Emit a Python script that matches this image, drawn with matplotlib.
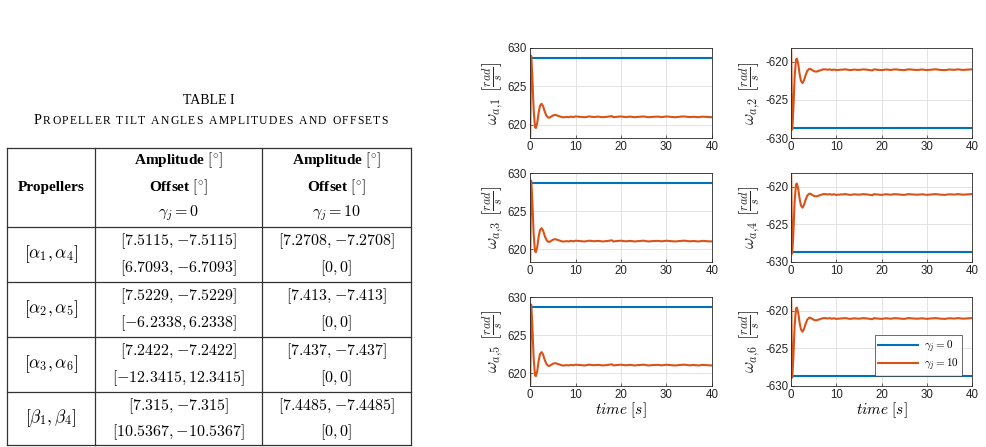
import matplotlib
matplotlib.use("Agg")
import matplotlib.pyplot as plt
from matplotlib.lines import Line2D

plt.rcParams['mathtext.fontset'] = 'cm'
plt.rcParams['font.family'] = ['Liberation Sans', 'DejaVu Sans']
plt.rcParams['axes.unicode_minus'] = False

# ---------------- data ----------------
table_title = "TABLE I"
table_subtitle = "Propeller tilt angles amplitudes and offsets"
header_col1 = "Propellers"
header_lines = ["Amplitude $[^{\\circ}]$", "Offset $[^{\\circ}]$"]
gamma_headers = ["$\\gamma_j=0$", "$\\gamma_j=10$"]
propellers = ["$[\\alpha_1,\\alpha_4]$", "$[\\alpha_2,\\alpha_5]$",
              "$[\\alpha_3,\\alpha_6]$", "$[\\beta_1,\\beta_4]$"]
amp_g0 = ["$[7.5115,{-7.5115}]$", "$[7.5229,{-7.5229}]$", "$[7.2422,{-7.2422}]$", "$[7.315,{-7.315}]$"]
off_g0 = ["$[6.7093,{-6.7093}]$", "$[{-6.2338},6.2338]$", "$[{-12.3415},12.3415]$", "$[10.5367,{-10.5367}]$"]
amp_g10 = ["$[7.2708,{-7.2708}]$", "$[7.413,{-7.413}]$", "$[7.437,{-7.437}]$", "$[7.4485,{-7.4485}]$"]
off_g10 = ["$[0,0]$", "$[0,0]$", "$[0,0]$", "$[0,0]$"]

# time and values
t_pos = [0.0, 0.05, 0.25, 0.5, 0.8, 1.1, 1.3, 1.6, 1.9, 2.2, 2.55, 2.9, 3.2, 3.6, 4.0, 4.3,
         4.7, 5.1, 5.6, 6.1, 6.6, 7.1, 7.6, 8.0, 8.5, 9.0, 9.5, 10.0, 11.0, 12.0, 13.0,
         14.0, 15.0, 16.0, 17.0, 18.0, 18.3, 19.0, 20.0, 21.0, 22.0, 23.0, 24.0, 25.0,
         26.0, 27.0, 28.0, 29.0, 30.0, 31.0, 32.0, 33.0, 34.0, 35.0, 36.0, 37.0, 38.0,
         39.0, 40.0]
w_pos = [618.3, 618.6, 629.0, 626.5, 622.0, 619.7, 619.6, 620.3, 621.6, 622.5, 622.75, 622.4,
         621.8, 621.2, 620.95, 620.95, 621.1, 621.25, 621.3, 621.2, 621.1, 621.0, 621.0,
         621.05, 621.0, 621.08, 621.02, 621.1, 621.05, 621.0, 621.1, 621.03, 621.08, 621.0,
         621.06, 621.15, 621.0, 621.05, 621.1, 621.02, 621.08, 621.0, 621.06, 621.1, 621.0,
         621.05, 621.08, 621.02, 621.1, 621.04, 621.0, 621.07, 621.1, 621.02, 621.06, 621.0,
         621.08, 621.03, 621.0]
t_neg = t_pos
w_neg = [-618.3, -618.6, -628.9, -626.5, -622.0, -619.7, -619.6, -620.3, -621.6, -622.5,
         -622.8, -622.4, -621.8, -621.2, -620.95, -620.95, -621.1, -621.25, -621.3, -621.2,
         -621.1, -621.0, -621.0, -621.05, -621.0, -621.08, -621.02, -621.1, -621.05, -621.0,
         -621.1, -621.03, -621.08, -621.0, -621.06, -621.15, -621.0, -621.05, -621.1,
         -621.02, -621.08, -621.0, -621.06, -621.1, -621.0, -621.05, -621.08, -621.02,
         -621.1, -621.04, -621.0, -621.07, -621.1, -621.02, -621.06, -621.0, -621.08,
         -621.03, -621.0]
t_const = [0.0, 40.0]
w_const_pos = [628.7, 628.7]
w_const_neg = [-628.7, -628.7]
ylabels = ["$\\omega_{a,\\!%d}\\ \\left[\\frac{rad}{s}\\right]$" % i for i in range(1, 7)]
legend_labels = ["$\\gamma_j=0$", "$\\gamma_j=10$"]
xticks = [0, 10, 20, 30, 40]
yticks_pos = [620, 625, 630]
yticks_neg = [-630, -625, -620]

BLUE = '#0072BD'
ORANGE = '#D95319'

W, H = 986, 447
fig = plt.figure(figsize=(W / 100, H / 100), dpi=100)


def fx(x):
    return x / W


def fy(y):
    return 1 - y / H


# ---------------- table ----------------
serif = ['Liberation Serif', 'DejaVu Serif']
cx = 211
fig.text(fx(209), fy(101), table_title, ha='center', va='center', family=serif, fontsize=10)

# small caps subtitle, letter-spaced to span the reference width
renderer = fig.canvas.get_renderer()
big, small = 10.4, 8.4
chars = []
for wi, word in enumerate(table_subtitle.split(' ')):
    if wi > 0:
        chars.append((' ', small))
    for ci, ch in enumerate(word):
        if wi == 0 and ci == 0:
            chars.append((ch, big))
        else:
            chars.append((ch.upper(), small))
texts = []
for s, size in chars:
    tx = fig.text(0, fy(124), s, ha='left', va='baseline', family=serif, fontsize=size)
    texts.append(tx)
widths = []
for (s, size), tx in zip(chars, texts):
    if s == ' ':
        widths.append(size * 0.3 * 100 / 72)
    else:
        widths.append(tx.get_window_extent(renderer).width)
target = 354
track = (target - sum(widths)) / (len(chars) - 1)
x0 = cx - target / 2
for tx, wdt in zip(texts, widths):
    tx.set_x(fx(x0))
    x0 += wdt + track

# table grid
col_x = [7, 95, 262, 411]
row_y = [148, 227, 282, 337, 392, 445]
lc = '#333333'
for x in col_x:
    fig.add_artist(Line2D([fx(x), fx(x)], [fy(row_y[0]), fy(row_y[-1])], color=lc, lw=0.9))
for y in row_y:
    fig.add_artist(Line2D([fx(col_x[0]), fx(col_x[-1])], [fy(y), fy(y)], color=lc, lw=0.9))

c1 = (col_x[0] + col_x[1]) / 2
c2 = (col_x[1] + col_x[2]) / 2
c3 = (col_x[2] + col_x[3]) / 2
fs_txt = 11
fs_math = 11.5
fig.text(fx(c1), fy(187), header_col1, ha='center', va='center', family=serif,
         fontweight='bold', fontsize=fs_txt)
for cc in (c2, c3):
    fig.text(fx(cc), fy(160), header_lines[0], ha='center', va='center', family=serif,
             fontweight='bold', fontsize=fs_txt)
    fig.text(fx(cc), fy(187), header_lines[1], ha='center', va='center', family=serif,
             fontweight='bold', fontsize=fs_txt)
fig.text(fx(c2), fy(213), gamma_headers[0], ha='center', va='center', fontsize=fs_math)
fig.text(fx(c3), fy(213), gamma_headers[1], ha='center', va='center', fontsize=fs_math)

for i in range(4):
    top = row_y[i + 1]
    bot = row_y[i + 2]
    ya = top + (bot - top) * 0.26
    yb = top + (bot - top) * 0.75
    fig.text(fx(c1), fy((top + bot) / 2), propellers[i], ha='center', va='center', fontsize=12.5)
    fig.text(fx(c2), fy(ya), amp_g0[i], ha='center', va='center', fontsize=fs_math)
    fig.text(fx(c2), fy(yb), off_g0[i], ha='center', va='center', fontsize=fs_math)
    fig.text(fx(c3), fy(ya), amp_g10[i], ha='center', va='center', fontsize=fs_math)
    fig.text(fx(c3), fy(yb), off_g10[i], ha='center', va='center', fontsize=fs_math)

# ---------------- plots ----------------
cols = [(530, 712), (791, 972)]
rows = [(48, 138), (173, 262), (297, 386)]
k = 0
for r, (yt, yb) in enumerate(rows):
    for c, (xl, xr) in enumerate(cols):
        ax = fig.add_axes([fx(xl), fy(yb), (xr - xl) / W, (yb - yt) / H])
        if c == 0:
            l1, = ax.plot(t_const, w_const_pos, color=BLUE, lw=1.5)
            l2, = ax.plot(t_pos, w_pos, color=ORANGE, lw=1.5)
            ax.set_ylim(618.3, 630)
            ax.set_yticks(yticks_pos)
        else:
            l1, = ax.plot(t_const, w_const_neg, color=BLUE, lw=1.5)
            l2, = ax.plot(t_neg, w_neg, color=ORANGE, lw=1.5)
            ax.set_ylim(-630, -618.2)
            ax.set_yticks(yticks_neg)
        ax.set_xlim(0, 40)
        ax.set_xticks(xticks)
        ax.grid(True, color='#DEDEDE', lw=0.6)
        ax.set_axisbelow(True)
        for sp in ax.spines.values():
            sp.set_color('#262626')
            sp.set_linewidth(0.6)
        ax.tick_params(direction='in', length=2.5, width=0.5, color='#262626',
                       labelsize=8.3, labelcolor='#262626', pad=2)
        ax.set_ylabel(ylabels[k], fontsize=12.5, labelpad=2, color='#262626')
        if r == 2:
            ax.set_xlabel("$time\\ [s]$", fontsize=11, labelpad=0)
        if k == 5:
            leg = ax.legend([l1, l2], legend_labels, loc='lower right', fontsize=8,
                            frameon=True, fancybox=False, edgecolor='#262626',
                            handlelength=3.6, borderpad=0.3, labelspacing=0.15,
                            handletextpad=0.5, borderaxespad=0.9)
            leg.get_frame().set_linewidth(0.6)
        k += 1

fig.savefig("out.png", dpi=100)
